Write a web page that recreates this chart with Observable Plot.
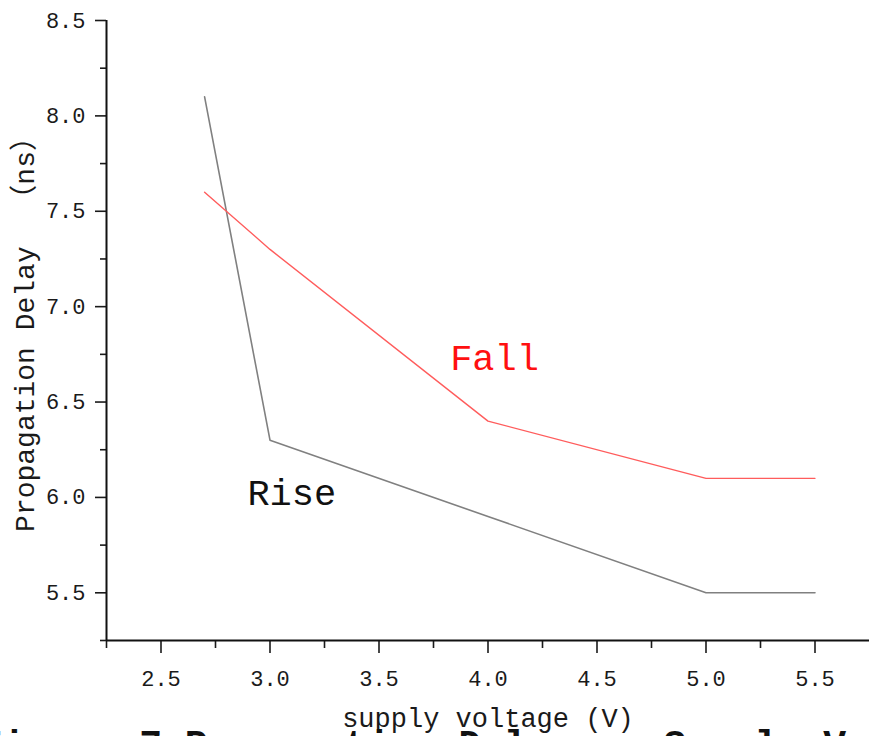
<!DOCTYPE html>
<html>
<head>
<meta charset="utf-8">
<script src="https://cdn.jsdelivr.net/npm/d3@7"></script>
<script src="https://cdn.jsdelivr.net/npm/@observablehq/plot@0.6"></script>
<style>
  html, body { margin: 0; padding: 0; background: #fff; overflow: hidden; }
</style>
</head>
<body>
<div id="chart"></div>
<script>
// ---- data ----
const voltage = [2.7, 3.0, 4.0, 5.0, 5.5];
const riseDelay = [8.1, 6.3, 5.9, 5.5, 5.5];
const fallDelay = [7.6, 7.3, 6.4, 6.1, 6.1];
const xMajorTicks = [2.5, 3.0, 3.5, 4.0, 4.5, 5.0, 5.5];
const xMinorTicks = [2.25, 2.75, 3.25, 3.75, 4.25, 4.75, 5.25];
const yMajorTicks = [5.5, 6.0, 6.5, 7.0, 7.5, 8.0, 8.5];
const yMinorTicks = [5.25, 5.75, 6.25, 6.75, 7.25, 7.75, 8.25];
const seriesLabels = ["Rise", "Fall"];
const labelX = [3.1, 4.03];
const labelY = [6.02, 6.73];
const xTitle = "supply voltage (V)";
const yTitle = "Propagation Delay  （ns）";
const caption = "Figure 7 Propagation Delay vs Supply Voltage";

const rise = voltage.map((v, i) => ({x: v, y: riseDelay[i]}));
const fall = voltage.map((v, i) => ({x: v, y: fallDelay[i]}));
const labels = seriesLabels.map((t, i) => ({text: t, x: labelX[i], y: labelY[i]}));

const font = "'Liberation Mono', 'Noto Sans CJK SC', monospace";
const fmt = d3.format(".1f");

const chart = Plot.plot({
  width: 869,
  height: 760,
  marginLeft: 106,
  marginRight: 0,
  marginTop: 20,
  marginBottom: 120,
  style: {fontFamily: font, fontSize: "22px", color: "#1a1a1a", background: "#fff", overflow: "visible"},
  x: {domain: [2.25, 5.75]},
  y: {domain: [5.25, 8.5]},
  marks: [
    Plot.axisX(xMajorTicks, {tickSize: 13, tickPadding: 17, tickFormat: fmt, strokeWidth: 1.6, fontSize: 22, label: null}),
    Plot.axisX(xMinorTicks, {tickSize: 8, text: null, strokeWidth: 1.6, label: null}),
    Plot.axisY(yMajorTicks, {tickSize: 11, tickPadding: 10, tickFormat: fmt, strokeWidth: 1.6, fontSize: 22, label: null}),
    Plot.axisY(yMinorTicks, {tickSize: 6, text: null, strokeWidth: 1.6, label: null}),
    Plot.ruleX([2.25], {y1: 5.25, y2: 8.5, strokeWidth: 2, stroke: "#111"}),
    Plot.ruleY([5.25], {x1: 2.25, x2: 5.75, strokeWidth: 2, stroke: "#111"}),
    Plot.line(rise, {x: "x", y: "y", stroke: "#808080", strokeWidth: 1.6}),
    Plot.line(fall, {x: "x", y: "y", stroke: "#ff5c5c", strokeWidth: 1.4}),
    Plot.text(labels, {x: "x", y: "y", text: "text", fontSize: 37, fill: (d) => d.text === "Fall" ? "#ff1010" : "#111", lineAnchor: "middle"}),
    Plot.text([xTitle], {frameAnchor: "bottom", dy: 78, fontSize: 27, fill: "#1a1a1a", lineAnchor: "middle"}),
    Plot.text([yTitle], {frameAnchor: "left", textAnchor: "middle", dx: -81, dy: -3, rotate: -90, fontSize: 28, fill: "#1a1a1a", lineAnchor: "middle"}),
    Plot.text([caption], {frameAnchor: "bottom-left", textAnchor: "start", dx: -127, dy: 104, fontSize: 38, fontWeight: "bold", fill: "#111", lineAnchor: "middle"})
  ]
});
document.getElementById("chart").appendChild(chart);
</script>
</body>
</html>
